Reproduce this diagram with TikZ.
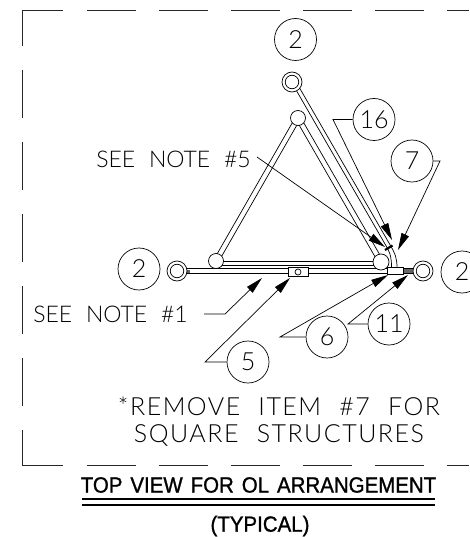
\documentclass[tikz,border=0pt]{standalone}
\usepackage{fontspec}
\setmainfont{Lato}[UprightFont=* Light,BoldFont=* Bold]
\newfontfamily\cad{Lato}[UprightFont=* Light,WordSpace=2.2,LetterSpace=6]
\newfontfamily\cadn{Lato}[UprightFont=* Light,WordSpace=2.2]
\newfontfamily\cadb{Liberation Sans}[WordSpace=1.4,FakeStretch=0.93,FakeBold=1.2]
\usetikzlibrary{arrows.meta,calc}
\tikzset{
 frame/.style={line width=0.9pt,black!85},
 bubble/.style={circle,draw,line width=0.7pt,minimum size=42pt,inner sep=0pt,font=\fontsize{25}{25}\selectfont},
 ball/.style={circle,draw,fill=white,line width=0.7pt,inner sep=0pt},
 member/.style={line width=0.7pt},
 leader/.style={line width=0.7pt,-{Triangle[length=17pt,width=8pt]}},
 note/.style={inner sep=0pt,font=\cadn\fontsize{23}{23}\selectfont},
 big/.style={inner sep=0pt,font=\cad\fontsize{25}{25}\selectfont},
}
\begin{document}
\begin{tikzpicture}[x=1pt,y=-1pt]
\useasboundingbox (0,0) rectangle (469,537);
% frame
\foreach \a/\b in {87/136,159/208,231/280,303/352,375/424,447/469}{
  \draw[frame] (\a,10) -- (\b,10);
  \draw[frame] (\a,465) -- (\b,465);
}
\draw[frame] (63,10) -- (22.5,10) -- (22.5,46);
\draw[frame] (63,465) -- (22.5,465) -- (22.5,430);
\foreach \a/\b in {70/118,142/190,214/262,286/334,358/406}{
  \draw[frame] (22.5,\a) -- (22.5,\b);
}
% coordinates of joints
\coordinate (T) at (298,118);
\coordinate (L) at (216,261);
\coordinate (R) at (381,262);
\coordinate (RT) at (292,82);
% diagonal members
\draw[member] ($(T)+(-2.2,-1.3)$) -- ($(L)+(-2.2,-1.3)$);
\draw[member] ($(T)+(2.2,1.3)$) -- ($(L)+(2.2,1.3)$);
\draw[member] ($(T)+(2.2,-1.3)$) -- ($(R)+(2.2,-1.3)$);
\draw[member] ($(T)+(-2.2,1.3)$) -- ($(R)+(-2.2,1.3)$);
\draw[member] (295.5,89) -- (385,244) .. controls (391,254) and (391.5,258) .. (391.5,268);
\draw[member] (299,87) -- (389,243) .. controls (395.5,254) and (397,258) .. (397,268);
\draw[line width=2.2pt] (385,250) -- (392.5,245.5);
% horizontal members
\draw[member] (222,261) -- (374,261);
\draw[member] (222,265) -- (374,265);
\draw[member] (186,268.5) -- (387,268.5);
\draw[member] (186,273) -- (387,273);
\draw[member] (403,268.5) -- (414,268.5);
\draw[member] (403,273) -- (414,273);
\fill[black!60] (403,269) rectangle (414,272.5);
\fill[black!60] (186,269.5) rectangle (190,272.5);
\draw[member,fill=white] (387,267.5) rectangle (403,274);
\draw[member,fill=white] (288,267) rectangle (308,276);
\node[ball,minimum size=6pt] (clip) at (298,272) {};
% joints
\node[ball,minimum size=15pt] (nT) at (T) {};
\node[ball,minimum size=15pt] (nL) at (L) {};
\node[ball,minimum size=16pt] (nR) at (R) {};
\foreach \n/\p in {rt/{292,82},rl/{177,271},rr/{423,271}}{
  \node[ball,minimum size=20pt] (\n) at (\p) {};
  \node[ball,minimum size=13.5pt] at (\p) {};
}
% bubbles
\node[bubble] (b2t) at (295.5,39.5) {2};
\node[bubble] (b2l) at (139,269) {2};
\node[bubble] (b2r) at (462,272) {2};
\node[bubble] (b5) at (248,362) {5};
\node[bubble] (b6) at (327,337) {6};
\node[bubble] (b11) at (389,324) {11};
\node[bubble] (b16) at (374,119.5) {16};
\node[bubble] (b7) at (412,161) {7};
% notes
\node[note] (n5) at (173.5,159) {SEE NOTE \#5};
\node[note] (n1) at (110.5,314) {SEE NOTE \#1};
\node[big] (rem) at (279,406) {*REMOVE ITEM \#7 FOR};
\node[big] (sq) at (279,436) {SQUARE STRUCTURES};
\node[inner sep=0pt,font=\cadb\fontsize{22}{22}\selectfont] (title) at (258.5,485) {TOP VIEW FOR OL ARRANGEMENT};
\node[inner sep=0pt,font=\cadb\fontsize{22}{22}\selectfont] (typ) at (260,526) {(TYPICAL)};
\coordinate (ul) at (82,498.5); \coordinate (ur) at (435,498.5);
\coordinate (vl) at (82,504.5); \coordinate (vr) at (435,504.5);
\draw[line width=2pt] (ul) -- (ur);
\draw[line width=2pt] (vl) -- (vr);
% leaders
\coordinate (a16) at (392,240);
\coordinate (a7) at (398,250);
\coordinate (a5) at (385,247);
\coordinate (a1) at (262,278);
\coordinate (a5b) at (290,278);
\coordinate (a6) at (388,275);
\coordinate (a11) at (408,275);
\draw[leader] (b16.west) -- (333,119.5) -- (a16);
\draw[leader] (b7.east) -- (440,161) -- (a7);
\draw[leader] (257,157) -- (a5);
\draw[leader] (204,314) -- (225,314) -- (a1);
\draw[leader] (b5.west) -- (205,362) -- (a5b);
\draw[leader] (b6.west) -- (280,337) -- (a6);
\draw[leader] (b11.west) -- (348,324) -- (a11);
\end{tikzpicture}
\end{document}
